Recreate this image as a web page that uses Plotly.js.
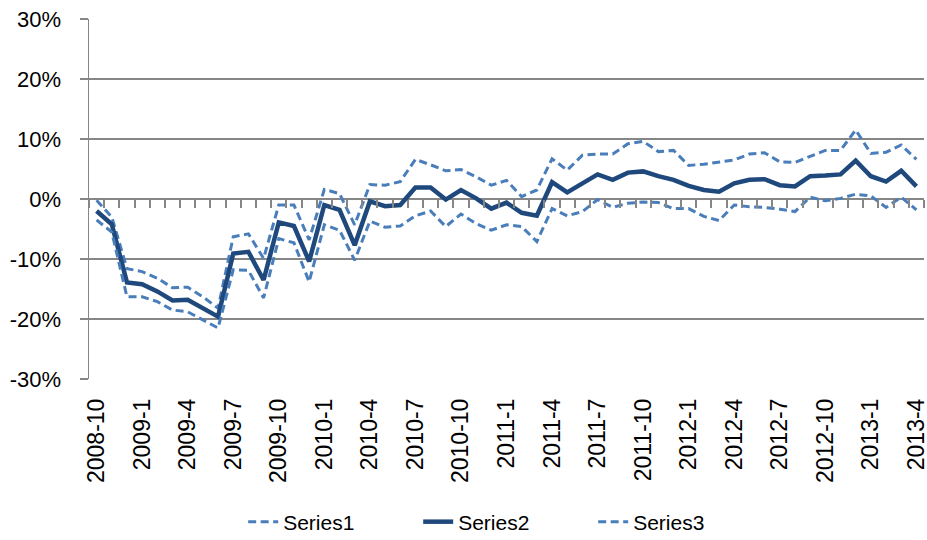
<!DOCTYPE html>
<html>
<head>
<meta charset="utf-8">
<script src="https://cdn.plot.ly/plotly-3.0.1.min.js"></script>
<style>html,body{margin:0;padding:0;background:#fff;}#chart{width:927px;height:540px;}</style>
</head>
<body>
<div id="chart"></div>
<script>
var categories = ['2008-10','2008-11','2008-12',
  '2009-1','2009-2','2009-3','2009-4','2009-5','2009-6','2009-7','2009-8','2009-9','2009-10','2009-11','2009-12',
  '2010-1','2010-2','2010-3','2010-4','2010-5','2010-6','2010-7','2010-8','2010-9','2010-10','2010-11','2010-12',
  '2011-1','2011-2','2011-3','2011-4','2011-5','2011-6','2011-7','2011-8','2011-9','2011-10','2011-11','2011-12',
  '2012-1','2012-2','2012-3','2012-4','2012-5','2012-6','2012-7','2012-8','2012-9','2012-10','2012-11','2012-12',
  '2013-1','2013-2','2013-3','2013-4'];

var series1 = [-0.2,-3.0,-11.6,-12.1,-13.2,-14.8,-14.7,-16.3,-18.2,-6.3,-5.8,-9.9,-1.0,-1.0,-6.8,
  1.6,0.9,-4.3,2.4,2.3,2.9,6.6,5.7,4.7,4.9,3.7,2.3,
  3.1,0.4,1.5,6.7,4.8,7.3,7.5,7.5,9.2,9.6,7.9,8.1,
  5.6,5.8,6.1,6.5,7.5,7.7,6.2,6.1,7.1,8.1,8.1,11.5,
  7.6,7.8,9.0,6.6];

var series2 = [-2.0,-4.2,-13.9,-14.2,-15.4,-16.9,-16.8,-18.2,-19.6,-9.1,-8.8,-13.5,-3.9,-4.5,-10.4,
  -1.0,-1.8,-7.7,-0.4,-1.2,-1.0,1.9,1.9,-0.1,1.5,0.1,-1.6,
  -0.6,-2.3,-2.8,2.8,1.1,2.7,4.1,3.2,4.4,4.6,3.8,3.2,
  2.2,1.5,1.2,2.6,3.2,3.3,2.3,2.1,3.8,3.9,4.1,6.4,
  3.8,2.9,4.7,2.1];

var series3 = [-3.5,-5.5,-16.3,-16.3,-17.1,-18.5,-18.8,-20.2,-21.5,-11.8,-11.9,-16.5,-6.6,-7.3,-13.8,
  -4.3,-5.2,-10.2,-3.7,-4.7,-4.5,-2.8,-2.0,-4.6,-2.5,-4.1,-5.2,
  -4.3,-4.6,-7.1,-1.6,-2.8,-2.1,-0.1,-1.4,-0.7,-0.5,-0.6,-1.6,
  -1.6,-2.9,-3.6,-1.0,-1.3,-1.4,-1.7,-2.1,0.3,-0.3,0.1,0.8,
  0.5,-1.4,0.3,-1.8];

var seriesNames = ['Series1','Series2','Series3'];

var xTickLabels = ['2008-10','2009-1','2009-4','2009-7','2009-10','2010-1','2010-4','2010-7','2010-10',
  '2011-1','2011-4','2011-7','2011-10','2012-1','2012-4','2012-7','2012-10','2013-1','2013-4'];

var yTickVals = [-30,-20,-10,0,10,20,30];
var yTickText = ['-30%','-20%','-10%','0%','10%','20%','30%'];

var FONT = 'Liberation Sans, Arial, sans-serif';
var GRID = '#868686';
var DASHCOL = '#4A7EBB';
var SOLIDCOL = '#1F497D';

var traces = [
  /* invisible helper so that the zero-line tick axis (x2 on y2) exists */
  {x: categories.map(function(c, i){return i;}), y: categories.map(function(){return 0;}),
   type: 'scatter', mode: 'lines', showlegend: false, hoverinfo: 'skip', opacity: 0,
   xaxis: 'x2', yaxis: 'y2', line: {width: 0}},
  {x: categories, y: series1, name: seriesNames[0], type: 'scatter', mode: 'lines',
   line: {color: DASHCOL, width: 3, dash: '8px,4.5px'}, xaxis: 'x', yaxis: 'y'},
  {x: categories, y: series2, name: seriesNames[1], type: 'scatter', mode: 'lines',
   line: {color: SOLIDCOL, width: 4.5}, xaxis: 'x', yaxis: 'y'},
  {x: categories, y: series3, name: seriesNames[2], type: 'scatter', mode: 'lines',
   line: {color: DASHCOL, width: 3, dash: '8px,4.5px'}, xaxis: 'x', yaxis: 'y'}
];

var layout = {
  width: 927, height: 540,
  margin: {l: 89, r: 3, t: 19, b: 161, pad: 0, autoexpand: false},
  paper_bgcolor: '#ffffff', plot_bgcolor: 'rgba(0,0,0,0)',
  font: {family: FONT, color: '#000000', size: 21},
  showlegend: true,
  legend: {orientation: 'h', xref: 'container', yref: 'container', x: 0.5455, xanchor: 'center',
           y: 0.0333, yanchor: 'middle', traceorder: 'normal',
           font: {family: FONT, size: 21, color: '#000'}, entrywidth: 130, entrywidthmode: 'pixels',
           bgcolor: 'rgba(0,0,0,0)'},
  xaxis: {
    type: 'category', categoryorder: 'array', categoryarray: categories,
    range: [-0.5, categories.length - 0.5], anchor: 'y',
    tickmode: 'array', tickvals: xTickLabels, ticktext: xTickLabels,
    tickangle: -90, ticks: '', showline: false, showgrid: false, zeroline: false,
    ticklabelstandoff: 14, automargin: false,
    tickfont: {family: FONT, size: 23, color: '#000'}
  },
  xaxis2: {
    type: 'linear', anchor: 'y2', domain: [0, 1], side: 'bottom',
    range: [-0.5, categories.length - 0.5], tickmode: 'linear', tick0: -0.5, dtick: 1,
    showline: false,
    ticks: 'outside', ticklen: 8, tickwidth: 2, tickcolor: GRID,
    showticklabels: false, showgrid: false, zeroline: false, automargin: false
  },
  yaxis2: {
    anchor: 'x2', domain: [0.5, 1], range: [0, 30], visible: false, automargin: false
  },
  yaxis: {
    range: [-30, 30], tickmode: 'array', tickvals: yTickVals, ticktext: yTickText,
    showgrid: true, gridcolor: GRID, gridwidth: 1.3, zeroline: false,
    showline: true, linecolor: GRID, linewidth: 1.5,
    ticks: 'outside', ticklen: 8, tickwidth: 1.5, tickcolor: GRID,
    ticklabelstandoff: 14, automargin: false,
    tickfont: {family: FONT, size: 22, color: '#000'}
  }
};

Plotly.newPlot('chart', traces, layout, {displayModeBar: false, staticPlot: true});
</script>
</body>
</html>
